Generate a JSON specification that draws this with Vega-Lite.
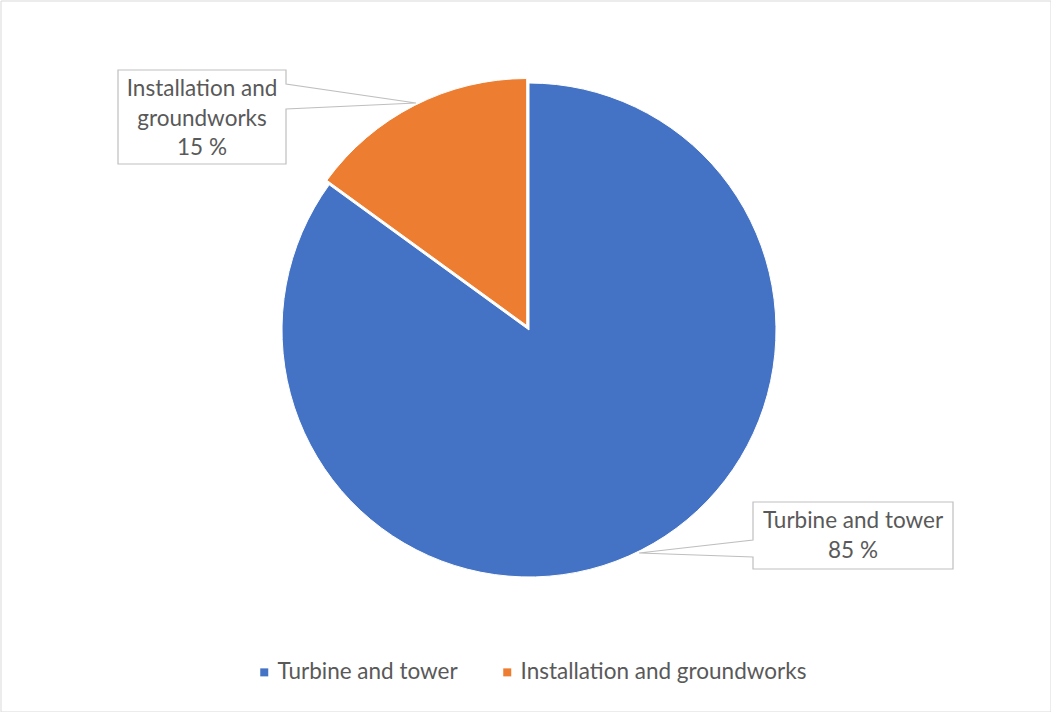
{
  "$schema": "https://vega.github.io/schema/vega-lite/v6.json",
  "width": 1050,
  "height": 711,
  "autosize": {"type": "none"},
  "padding": {"left": 1, "top": 1, "right": 0, "bottom": 0},
  "background": "white",
  "config": {
    "view": {"stroke": null},
    "font": "Lato",
    "text": {"font": "Lato"}
  },
  "data": {
    "values": [
      {"category": "Turbine and tower", "value": 85, "wrapped": "Turbine and tower"},
      {"category": "Installation and groundworks", "value": 15, "wrapped": "Installation and\ngroundworks"}
    ]
  },
  "transform": [
    {"stack": "value", "groupby": [], "as": ["v0", "v1"], "sort": [{"field": "category", "order": "descending"}]},
    {"calculate": "datum.wrapped + '\\n' + datum.value + ' %'", "as": "label"}
  ],
  "layer": [
    {
      "transform": [{"filter": "datum.category == 'Turbine and tower'"}],
      "mark": {"type": "rect", "fill": "white", "fillOpacity": 0, "stroke": "#d9d9d9", "strokeWidth": 1},
      "encoding": {}
    },
    {
      "transform": [{"filter": "datum.category == 'Turbine and tower'"}],
      "mark": {"type": "arc", "outerRadius": 247, "xOffset": 3, "yOffset": -26.5, "stroke": "white", "strokeWidth": 1},
      "encoding": {
        "theta": {"field": "v0", "type": "quantitative", "scale": {"domain": [0, 100]}},
        "theta2": {"field": "v1"},
        "color": {
          "field": "category",
          "type": "nominal",
          "scale": {"domain": ["Turbine and tower", "Installation and groundworks"], "range": ["#4472C4", "#ED7D31"]},
          "legend": {
            "title": null,
            "orient": "none",
            "legendX": 252,
            "legendY": 660,
            "direction": "horizontal",
            "symbolType": "square",
            "symbolSize": 64,
            "symbolStrokeWidth": 0,
            "labelFont": "Lato",
            "labelFontSize": 22.5,
            "labelColor": "#595959",
            "labelOffset": 2,
            "labelLimit": 500,
            "columnPadding": 38
          }
        }
      }
    },
    {
      "transform": [{"filter": "datum.category == 'Installation and groundworks'"}],
      "mark": {"type": "arc", "outerRadius": 247, "xOffset": 0.7, "yOffset": -31, "stroke": "white", "strokeWidth": 1},
      "encoding": {
        "theta": {"field": "v0", "type": "quantitative"},
        "theta2": {"field": "v1"},
        "color": {"field": "category", "type": "nominal"}
      }
    },
    {
      "transform": [{"filter": "datum.category == 'Installation and groundworks'"}],
      "mark": {
        "type": "point",
        "shape": "M-411,-260 L-243,-260 L-243,-246 L-113,-227 L-243,-221 L-243,-166 L-411,-166 Z",
        "size": 4,
        "filled": true,
        "fill": "white",
        "fillOpacity": 1,
        "opacity": 1,
        "stroke": "#bfbfbf",
        "strokeWidth": 1.2,
        "xOffset": 3,
        "yOffset": -26.5
      },
      "encoding": {}
    },
    {
      "transform": [{"filter": "datum.category == 'Turbine and tower'"}],
      "mark": {
        "type": "point",
        "shape": "M224,172 L424,172 L424,239 L224,239 L224,227 L110,223 L224,210 Z",
        "size": 4,
        "filled": true,
        "fill": "white",
        "fillOpacity": 1,
        "opacity": 1,
        "stroke": "#bfbfbf",
        "strokeWidth": 1.2,
        "xOffset": 3,
        "yOffset": -26.5
      },
      "encoding": {}
    },
    {
      "transform": [{"filter": "datum.category == 'Installation and groundworks'"}],
      "mark": {
        "type": "text",
        "lineBreak": "\n",
        "align": "center",
        "baseline": "middle",
        "font": "Lato",
        "fontSize": 22.5,
        "lineHeight": 29.5,
        "color": "#595959",
        "xOffset": 3,
        "yOffset": -26.5,
        "dx": -327,
        "dy": -241
      },
      "encoding": {"text": {"field": "label", "type": "nominal"}}
    },
    {
      "transform": [{"filter": "datum.category == 'Turbine and tower'"}],
      "mark": {
        "type": "text",
        "lineBreak": "\n",
        "align": "center",
        "baseline": "middle",
        "font": "Lato",
        "fontSize": 22.5,
        "lineHeight": 29.5,
        "color": "#595959",
        "xOffset": 3,
        "yOffset": -26.5,
        "dx": 324,
        "dy": 191
      },
      "encoding": {"text": {"field": "label", "type": "nominal"}}
    }
  ]
}
